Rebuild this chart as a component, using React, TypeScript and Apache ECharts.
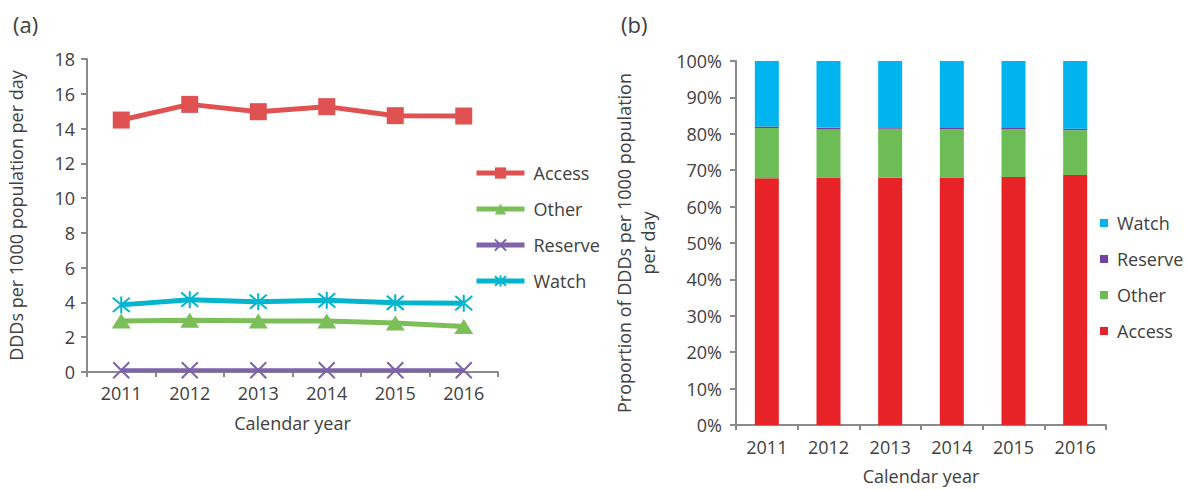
import React, { useEffect, useRef } from "react";
import * as echarts from "echarts";

const years = ["2011", "2012", "2013", "2014", "2015", "2016"];

// Panel (a): DDDs per 1000 population per day
const accessDDD = [14.49, 15.39, 14.97, 15.26, 14.74, 14.72];
const otherDDD = [2.94, 2.98, 2.94, 2.94, 2.82, 2.62];
const reserveDDD = [0.1, 0.1, 0.1, 0.1, 0.1, 0.1];
const watchDDD = [3.86, 4.16, 4.04, 4.12, 3.98, 3.96];

// Panel (b): proportion (%)
const accessPct = [67.8, 68.0, 67.9, 68.0, 68.1, 68.7];
const otherPct = [13.8, 13.3, 13.5, 13.2, 13.1, 12.3];
const reservePct = [0.4, 0.4, 0.4, 0.4, 0.4, 0.4];
const watchPct = [18.0, 18.3, 18.2, 18.4, 18.4, 18.6];

const FONT = "Open Sans";
const TXT = "#404040";
const AX = "#8a8a8a";

const xPath = "path://M0,0L20,20M20,0L0,20";
const starPath = "path://M0,0L20,20M20,0L0,20M10,-2L10,22";

export default function App() {
  const ref = useRef<HTMLDivElement>(null);
  useEffect(() => {
    const chart = echarts.init(ref.current!, undefined, { renderer: "svg" });
    const axisCommon = {
      axisLine: { show: true, lineStyle: { color: AX, width: 2 } },
      axisTick: { show: true, length: 6, lineStyle: { color: AX, width: 2 } },
      axisLabel: { color: TXT, fontSize: 18, fontFamily: FONT },
      nameTextStyle: { color: TXT, fontSize: 18, fontFamily: FONT },
      splitLine: { show: false },
    };
    const lineSeries = (
      name: string,
      data: number[],
      color: string,
      symbol: string,
      size: number | number[],
      width: number,
      stroke: boolean
    ) => ({
      type: "line",
      name,
      data,
      xAxisIndex: 0,
      yAxisIndex: 0,
      symbol,
      symbolSize: size,
      showAllSymbol: true,
      lineStyle: { color, width },
      itemStyle: stroke
        ? { color: color, borderColor: color, borderWidth: 2 }
        : { color: color, borderWidth: 0 },
    });
    const barSeries = (name: string, data: number[], color: string) => ({
      type: "bar",
      name: "b:" + name,
      data,
      stack: "total",
      xAxisIndex: 1,
      yAxisIndex: 1,
      barWidth: 24,
      itemStyle: { color },
    });
    chart.setOption({
      animation: false,
      textStyle: { fontFamily: FONT },
      title: [
        { text: "(a)", left: 8, top: 8, textStyle: { color: TXT, fontSize: 22, fontWeight: "normal", fontFamily: FONT } },
        { text: "(b)", left: 616, top: 8, textStyle: { color: TXT, fontSize: 22, fontWeight: "normal", fontFamily: FONT } },
      ],
      grid: [
        { left: 87, top: 59, width: 411, height: 313 },
        { left: 736, top: 61, width: 370, height: 367 },
      ],
      xAxis: [
        {
          ...axisCommon,
          type: "category",
          gridIndex: 0,
          data: years,
          boundaryGap: true,
          axisTick: { show: true, length: 5, interval: 0, lineStyle: { color: AX, width: 2 } },
          axisLabel: { ...axisCommon.axisLabel, margin: 12 },
          name: "Calendar year",
          nameLocation: "middle",
          nameGap: 42,
        },
        {
          ...axisCommon,
          type: "category",
          gridIndex: 1,
          data: years,
          boundaryGap: true,
          axisTick: { show: true, length: 5, interval: 0, lineStyle: { color: AX, width: 2 } },
          axisLabel: { ...axisCommon.axisLabel, margin: 13 },
          name: "Calendar year",
          nameLocation: "middle",
          nameGap: 42,
        },
      ],
      yAxis: [
        {
          ...axisCommon,
          type: "value",
          gridIndex: 0,
          min: 0,
          max: 18,
          interval: 2,
          axisLabel: { ...axisCommon.axisLabel, margin: 12 },
          name: "DDDs per 1000 population per day",
          nameLocation: "middle",
          nameGap: 62,
          nameRotate: 90,
        },
        {
          ...axisCommon,
          type: "value",
          gridIndex: 1,
          min: 0,
          max: 100,
          interval: 10,
          axisLabel: { ...axisCommon.axisLabel, margin: 14, formatter: "{value}%" },
          name: "Proportion of DDDs per 1000 population\nper day",
          nameLocation: "middle",
          nameGap: 76,
          nameRotate: 90,
          nameTextStyle: { ...axisCommon.nameTextStyle, lineHeight: 24 },
        },
      ],
      legend: [
        {
          orient: "vertical",
          left: 474,
          top: 164,
          padding: 0,
          itemWidth: 48,
          itemHeight: 14,
          itemGap: 18,
          lineStyle: { width: 5 },
          data: ["Access", "Other", "Reserve", "Watch"],
          textStyle: { color: TXT, fontSize: 18, fontFamily: FONT, padding: [0, 0, 0, 4] },
        },
        {
          orient: "vertical",
          left: 1100,
          top: 214,
          padding: 0,
          itemWidth: 8,
          itemHeight: 8,
          itemGap: 18,
          icon: "rect",
          data: ["b:Watch", "b:Reserve", "b:Other", "b:Access"],
          formatter: (n: string) => n.replace("b:", ""),
          textStyle: { color: TXT, fontSize: 18, fontFamily: FONT, padding: [0, 0, 0, 4] },
        },
      ],
      series: [
        lineSeries("Access", accessDDD, "#E05252", "rect", 17, 5, false),
        lineSeries("Other", otherDDD, "#7CBF59", "triangle", [19, 15], 5, false),
        lineSeries("Reserve", reserveDDD, "#7E62AA", xPath, 16, 4, true),
        lineSeries("Watch", watchDDD, "#00B5CD", starPath, 17, 5, true),
        barSeries("Access", accessPct, "#E82328"),
        barSeries("Other", otherPct, "#6CBD55"),
        barSeries("Reserve", reservePct, "#7140A0"),
        barSeries("Watch", watchPct, "#00B5EF"),
      ],
    });
    return () => chart.dispose();
  }, []);
  return (
    <div
      ref={ref}
      style={{ position: "fixed", left: 0, top: 0, width: 1187, height: 490, background: "#fff" }}
    />
  );
}
